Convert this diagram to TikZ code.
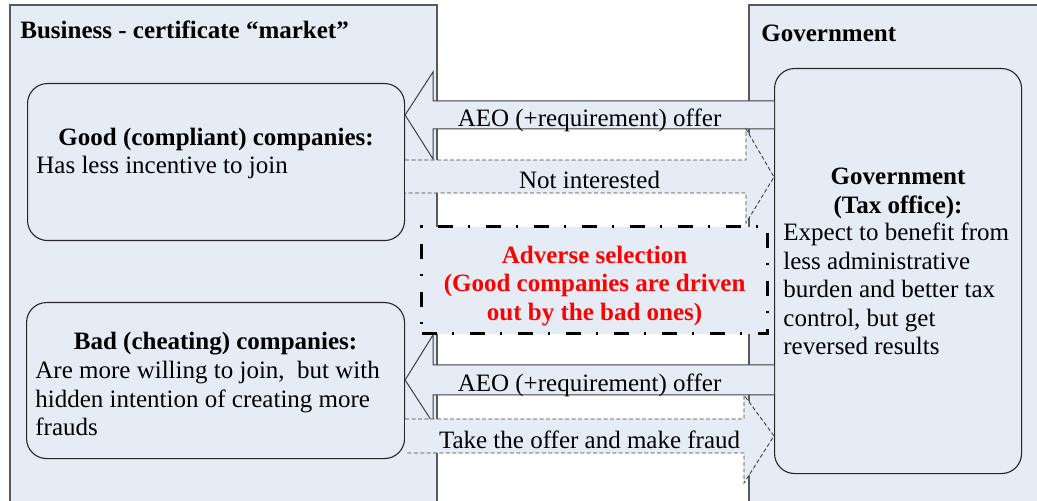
\documentclass[tikz,border=0pt]{standalone}
\usepackage{fontspec}
\setmainfont{Liberation Serif}
\usetikzlibrary{positioning, calc}

\definecolor{panelblue}{RGB}{230,236,246}
\definecolor{alarmred}{RGB}{255,0,0}

\begin{document}
\begin{tikzpicture}[x=0.5pt, y=-0.5pt, font=\fontsize{12.5}{14.25}\selectfont]
    \tikzstyle{panel} = [draw=black!65, fill=panelblue, line width=0.6pt]
    \tikzstyle{party} = [draw=black!85, fill=panelblue, line width=0.55pt, rounded corners=10pt, inner sep=0pt]
    \tikzstyle{offer} = [draw=black!75, fill=panelblue, line width=0.5pt]
    \tikzstyle{reply} = [draw=black!75, fill=panelblue, line width=0.45pt, dash pattern=on 2pt off 1.2pt]
    \tikzstyle{warning} = [draw=black, fill=panelblue, line width=1.6pt, dash pattern=on 7.5pt off 7.75pt on 1pt off 7.75pt, inner sep=0pt]
    \tikzstyle{head} = [inner sep=0pt, font=\fontsize{12.5}{14.25}\selectfont\bfseries]
    \tikzstyle{body} = [inner sep=0pt, anchor=base west]
    \tikzstyle{arrowtext} = [inner sep=0pt, anchor=base]

    \useasboundingbox (0,0) rectangle (1037,501);

    % the two sides
    \path[panel] (10,520) |- (437,5) -- (437,520);
    \path[panel] (749,520) |- (1050,5) -- (1050,520);
    \node[head, anchor=base west] (market) at (20,39) {Business - certificate “market”};
    \node[head, anchor=base west] (govside) at (761,42) {Government};

    % companies and tax office
    \node[party, anchor=north west, minimum width=188.5pt, minimum height=78.5pt] (good) at (27,83) {};
    \node[party, anchor=north west, minimum width=189pt, minimum height=78pt] (bad) at (26,302) {};
    \node[party, anchor=north west, minimum width=123.5pt, minimum height=202.5pt] (gov) at (774,68) {};

    \node[head, anchor=base] (goodname) at (good.center |- 0,146) {Good (compliant) companies:};
    \node[body] (goodtext) at (36,174) {Has less incentive to join};

    \node[head, anchor=base] (badname) at (bad.center |- 0,350) {Bad (cheating) companies:};
    \node[body] (badtext) at (35,379) {\begin{tabular}[t]{@{}l@{}}Are more willing to join,\ \ but with\\ hidden intention of creating more\\ frauds\end{tabular}};

    \node[head, anchor=base] (govname) at (gov.center |- 0,185) {Government};
    \node[head, anchor=base] (taxoffice) at (gov.center |- 0,214) {(Tax office):};
    \node[body] (govtext) at (783,241) {\begin{tabular}[t]{@{}l@{}}Expect to benefit from\\ less administrative\\ burden and better tax\\ control, but get\\ reversed results\end{tabular}};

    % block arrows
    \draw[offer] (gov.west |- 0,101) -- (433,101) -- (433,72) -- (good.east |- 0,115)
        -- (433,159) -- (433,129) -- (gov.west |- 0,129);
    \draw[reply] (good.east |- 0,160) -- (746,160) -- (746,129) -- (gov.west |- 0,177)
        -- (746,223) -- (746,193) -- (good.east |- 0,193);
    \draw[offer] (gov.west |- 0,365) -- (433,365) -- (433,335) -- (bad.east |- 0,380)
        -- (433,423) -- (433,395) -- (gov.west |- 0,395);
    \draw[reply] (bad.east |- 0,419) -- (744,419) -- (744,395) -- (gov.west |- 0,436)
        -- (744,483) -- (744,453) -- (bad.east |- 0,453);

    \node[arrowtext] (offertop) at ($(good.east |- 0,127)!0.5!(gov.west |- 0,127)$) {AEO (+requirement) offer};
    \node[arrowtext] (refuse) at ($(good.east |- 0,189)!0.5!(gov.west |- 0,189)$) {Not interested};
    \node[arrowtext] (offerbottom) at ($(bad.east |- 0,392)!0.5!(gov.west |- 0,392)$) {AEO (+requirement) offer};
    \node[arrowtext] (fraud) at ($(bad.east |- 0,448)!0.5!(gov.west |- 0,448)$) {Take the offer and make fraud};

    % adverse selection note
    \node[warning, anchor=north west, minimum width=173pt, minimum height=53.5pt] (adverse) at (420,225) {};
    \node[head, text=alarmred, align=center] (adversetext) at ([yshift=-2.75pt]adverse.center)
        {Adverse selection\\(Good companies are driven\\out by the bad ones)};
\end{tikzpicture}
\end{document}
